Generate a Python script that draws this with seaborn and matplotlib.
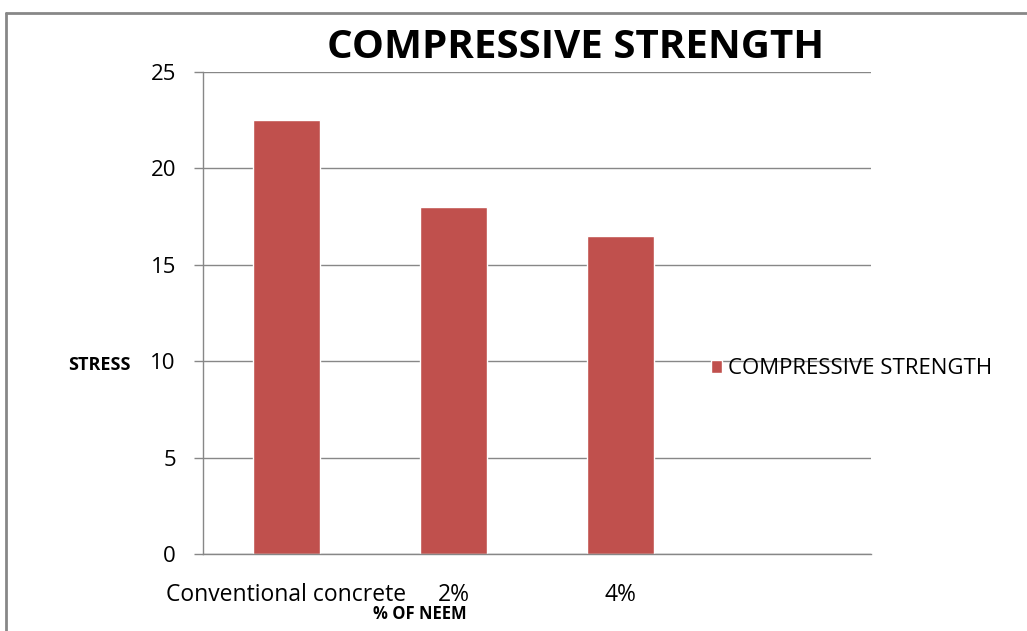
import numpy as np
import pandas as pd
import seaborn as sb
import matplotlib.pyplot as plt
from matplotlib.lines import Line2D

# chart values
aCategories = ["Conventional concrete", "2%", "4%"]
aStress = [22.5, 18, 16.5]
sSeries = "COMPRESSIVE STRENGTH"
aYTicks = [0, 5, 10, 15, 20, 25]

oData = pd.DataFrame({"category": aCategories, "stress": aStress})

sb.set_style("white")
plt.rcParams["font.family"] = ["Open Sans", "DejaVu Sans"]
plt.rcParams["text.color"] = "black"
plt.rcParams["xtick.color"] = "black"
plt.rcParams["ytick.color"] = "black"

sGrey = "#878787"
oFig = plt.figure(figsize=(10.27, 6.31), dpi=100, facecolor="white")
oAx = oFig.add_axes([203 / 1027, 1 - 554 / 631, 668 / 1027, 482 / 631])

sb.barplot(data=oData, x="category", y="stress", order=aCategories,
           color="#C0504D", saturation=1, width=0.4, label=sSeries, ax=oAx)

oAx.set_xlim(-0.5, 3.5)
oAx.set_ylim(0, 25)
oAx.set_yticks(aYTicks)
oAx.set_yticklabels([str(v) for v in aYTicks], fontsize=16)
oAx.set_xticks(range(len(aCategories)))
oAx.set_xticklabels(aCategories, fontsize=16.5)
oAx.set_xticks(np.arange(-0.5, 4, 1), minor=True)
oAx.tick_params(axis="x", which="major", length=0, pad=21)
oAx.tick_params(axis="x", which="minor", length=6.5, width=1, color=sGrey,
                direction="out")
oAx.tick_params(axis="y", length=6.5, width=1, color=sGrey, direction="out",
                pad=13, left=True)
oAx.set_xlabel("")
oAx.set_ylabel("")

oAx.grid(axis="y", color=sGrey, linewidth=1)
oAx.set_axisbelow(True)
for sSide in ["top", "right"]:
    oAx.spines[sSide].set_visible(False)
for sSide in ["left", "bottom"]:
    oAx.spines[sSide].set_color(sGrey)
    oAx.spines[sSide].set_linewidth(1)

# legend sits over the right part of the plot area
oLegend = oAx.legend(loc="center left",
                     bbox_to_anchor=(711 / 1027, 1 - 369 / 631),
                     bbox_transform=oFig.transFigure, frameon=False,
                     fontsize=16, handlelength=0.5, handleheight=0.5,
                     handletextpad=0.25, borderpad=0, borderaxespad=0)

# title and axis names
oFig.text(576 / 1027, 1 - 47 / 631, "COMPRESSIVE STRENGTH", fontsize=29,
          fontweight="bold", ha="center", va="center")
oFig.text(99 / 1027, 1 - 365 / 631, "STRESS", fontsize=13,
          fontweight="bold", ha="center", va="center")
oFig.text(420 / 1027, 1 - 614 / 631, "% OF NEEM", fontsize=12,
          fontweight="bold", ha="center", va="center")

# outer chart frame
oFig.add_artist(Line2D([6 / 1027, 6 / 1027], [0, 1 - 13 / 631],
                       transform=oFig.transFigure, color=sGrey, linewidth=2))
oFig.add_artist(Line2D([6 / 1027, 1], [1 - 13 / 631, 1 - 13 / 631],
                       transform=oFig.transFigure, color=sGrey, linewidth=2))

oFig.savefig("out.png", dpi=100, facecolor="white")
